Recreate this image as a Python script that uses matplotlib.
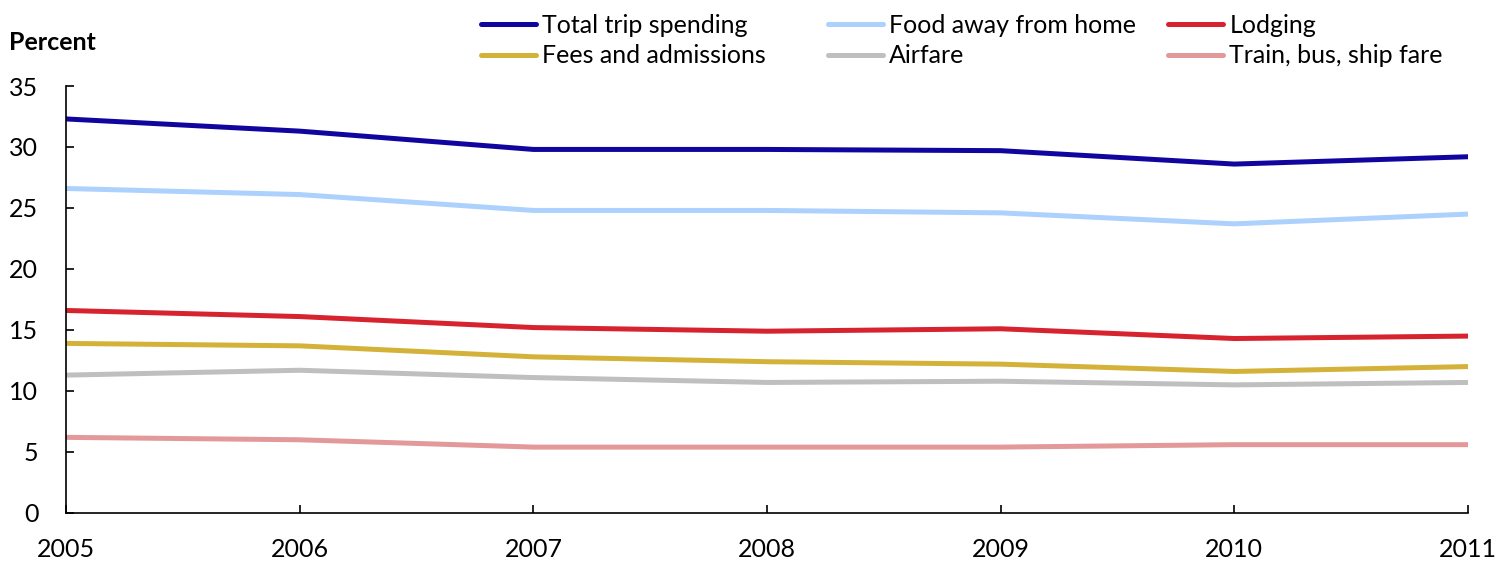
import matplotlib
matplotlib.use('Agg')
import matplotlib.pyplot as plt

years = [2005, 2006, 2007, 2008, 2009, 2010, 2011]
total_trip = [32.3, 31.3, 29.8, 29.8, 29.7, 28.6, 29.2]
food_away = [26.6, 26.1, 24.8, 24.8, 24.6, 23.7, 24.5]
lodging = [16.6, 16.1, 15.2, 14.9, 15.1, 14.3, 14.5]
fees = [13.9, 13.7, 12.8, 12.4, 12.2, 11.6, 12.0]
airfare = [11.3, 11.7, 11.1, 10.7, 10.8, 10.5, 10.7]
train_bus = [6.2, 6.0, 5.4, 5.4, 5.4, 5.6, 5.6]

plt.rcParams['font.family'] = ['Lato', 'DejaVu Sans']

fig = plt.figure(figsize=(15.12, 5.61), dpi=100)
ax = fig.add_axes([0.0437, 0.0856, 0.9272, 0.7611])

series = [
    ('Total trip spending', total_trip, '#10069f'),
    ('Food away from home', food_away, '#abd1fc'),
    ('Lodging', lodging, '#d6232e'),
    ('Fees and admissions', fees, '#d4b23a'),
    ('Airfare', airfare, '#bfbfbf'),
    ('Train, bus, ship fare', train_bus, '#e39999'),
]
handles = []
for name, vals, col in series:
    h, = ax.plot(years, vals, color=col, lw=3.6, label=name, solid_capstyle='round')
    handles.append(h)

ax.set_xlim(2005, 2011)
ax.set_ylim(0, 35)
ax.set_yticks(range(0, 36, 5))
ax.set_xticks(years)
ax.spines['top'].set_visible(False)
ax.spines['right'].set_visible(False)
ax.spines['left'].set_linewidth(1.2)
ax.spines['bottom'].set_linewidth(1.2)
ax.tick_params(axis='both', direction='in', length=6, width=1.2, labelsize=18)
ax.tick_params(axis='x', pad=18)
ax.tick_params(axis='y', pad=20)

fig.text(0.006, 0.925, 'Percent', fontsize=18, fontweight='bold', va='center')

# Excel-style legend: equal column positions, one legend per column
col_x = [0.3115, 0.541, 0.766]
for i, x0 in enumerate(col_x):
    hs = [handles[i], handles[i + 3]]
    leg = fig.legend(hs, [h.get_label() for h in hs], loc='upper left',
                     bbox_to_anchor=(x0, 0.993), frameon=False, fontsize=18,
                     handlelength=2.2, handletextpad=0.25, labelspacing=0.3,
                     borderaxespad=0.2, borderpad=0.2)
    leg._legend_box.align = 'left'

fig.savefig('out.png', dpi=100)
